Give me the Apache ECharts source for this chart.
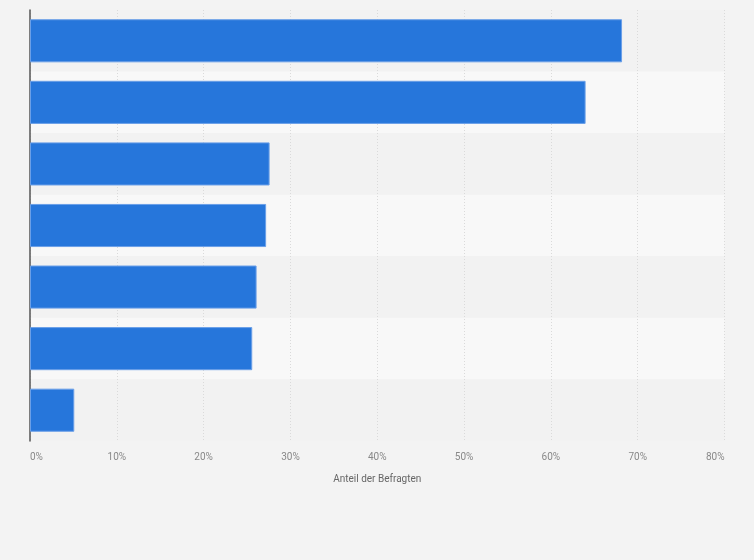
<!DOCTYPE html>
<html lang="de">
<head>
  <meta charset="UTF-8" />
  <title>Anteil der Befragten</title>
  <script src="https://cdn.jsdelivr.net/npm/echarts@6.0.0/dist/echarts.min.js"></script>
  <style>
    html, body {
      margin: 0;
      background: #f3f3f3;
      overflow: hidden;
    }
    #main {
      width: 754px;
      height: 560px;
    }
  </style>
</head>
<body>
  <div id="main"></div>
  <script>
    // Kategorien sind im Bild nicht beschriftet
    const categories = ['Antwort 1', 'Antwort 2', 'Antwort 3', 'Antwort 4', 'Antwort 5', 'Antwort 6', 'Antwort 7'];
    const shares = [68.2, 64.0, 27.6, 27.2, 26.1, 25.6, 5.1];
    const xTicks = [0, 10, 20, 30, 40, 50, 60, 70, 80];

    const chart = echarts.init(document.getElementById('main'));

    const option = {
      backgroundColor: '#f3f3f3',
      animation: false,
      textStyle: { fontFamily: 'Roboto, "Liberation Sans", Arial, sans-serif' },
      grid: {
        left: 30,
        right: 29.5,
        top: 10,
        bottom: 119
      },
      xAxis: {
        type: 'value',
        min: xTicks[0],
        max: xTicks[xTicks.length - 1],
        interval: 10,
        name: 'Anteil der Befragten',
        nameLocation: 'middle',
        nameGap: 33,
        nameTextStyle: { color: '#666', fontSize: 10 },
        axisLine: { show: false },
        axisTick: { show: false },
        axisLabel: {
          color: '#888',
          fontSize: 10,
          margin: 11,
          alignMinLabel: 'left',
          alignMaxLabel: 'right',
          formatter: v => v + '%'
        },
        splitLine: {
          show: true,
          lineStyle: { color: '#dadada', type: [1, 2], width: 1 }
        }
      },
      yAxis: {
        type: 'category',
        data: categories,
        inverse: true,
        axisLine: { show: true, lineStyle: { color: '#555', width: 1.5 } },
        axisTick: { show: false },
        axisLabel: { show: false },
        splitArea: {
          show: true,
          areaStyle: { color: ['#f2f2f2', '#f8f8f8'] }
        }
      },
      series: [
        {
          type: 'bar',
          data: shares,
          barCategoryGap: '30%',
          itemStyle: {
            color: '#2676db',
            borderColor: '#6a9fe8',
            borderWidth: 1
          }
        }
      ]
    };

    chart.setOption(option);
  </script>
</body>
</html>
